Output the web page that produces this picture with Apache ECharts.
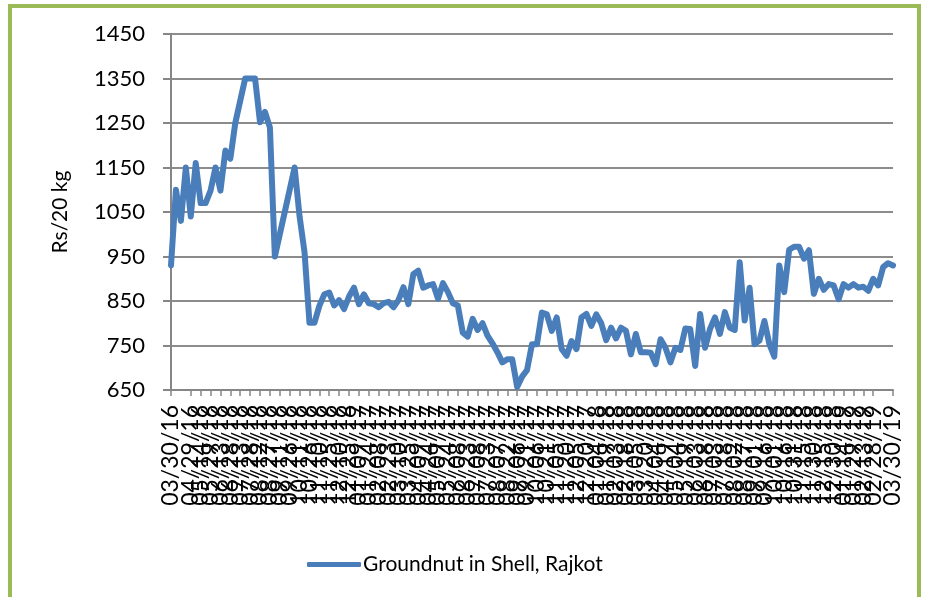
<!DOCTYPE html>
<html>
<head>
<meta charset="utf-8">
<script src="https://cdn.jsdelivr.net/npm/echarts@6/dist/echarts.min.js"></script>
<style>
  html, body { margin: 0; padding: 0; background: #fff; }
  #chart { width: 928px; height: 597px; }
</style>
</head>
<body>
<div id="chart"></div>
<script>
// Groundnut in Shell, Rajkot - Rs/20 kg, 03/30/16 .. 03/30/19
var seriesName = 'Groundnut in Shell, Rajkot';
var startDate = [2016, 3, 30];
var spanDays = 1095;

var prices = [
  930, 1100, 1030, 1150, 1040, 1160, 1070, 1070, 1098, 1150,
  1098, 1188, 1170, 1250, 1300, 1350, 1350, 1350, 1252, 1275,
  1240, 950, 1000, 1050, 1100, 1150, 1040, 960, 801, 801,
  839, 865, 869, 840, 852, 832, 860, 880, 843, 865,
  845, 843, 836, 845, 848, 836, 852, 881, 843, 910,
  918, 880, 885, 888, 855, 890, 870, 845, 840, 779,
  770, 810, 785, 800, 772, 755, 735, 712, 719, 719,
  657, 680, 695, 753, 753, 824, 820, 783, 813, 742,
  727, 760, 742, 813, 821, 794, 820, 800, 762, 790,
  766, 790, 783, 730, 776, 735, 735, 734, 708, 764,
  745, 712, 745, 740, 788, 787, 704, 821, 745, 787,
  813, 776, 825, 790, 785, 937, 806, 880, 753, 761,
  805, 753, 725, 930, 870, 965, 972, 972, 945, 964,
  866, 900, 875, 888, 885, 854, 888, 880, 888, 880,
  882, 873, 900, 885, 926, 935, 930
];

// date labels MM/DD/YY spread over the period
function pad(n) { return (n < 10 ? '0' : '') + n; }
var dates = [];
for (var i = 0; i < prices.length; i++) {
  var d = new Date(startDate[0], startDate[1] - 1, startDate[2] + Math.round(i * spanDays / (prices.length - 1)));
  dates.push(pad(d.getMonth() + 1) + '/' + pad(d.getDate()) + '/' + String(d.getFullYear()).slice(2));
}

var chart = echarts.init(document.getElementById('chart'));
var font = 'Lato, "Open Sans", sans-serif';

var option = {
  animation: false,
  textStyle: { fontFamily: font },
  grid: { left: 171, right: 35, top: 34, bottom: 207 },
  graphic: [{
    type: 'rect',
    shape: { x: 10, y: 6, width: 909, height: 640 },
    style: { fill: 'none', stroke: '#9bbb59', lineWidth: 4 },
    silent: true
  }],
  legend: {
    bottom: 17,
    left: 302,
    icon: 'roundRect',
    itemWidth: 54,
    itemHeight: 5,
    itemGap: 4,
    textStyle: { fontSize: 21, color: '#000', fontFamily: font, padding: [0, 0, 0, -3] },
    data: [seriesName]
  },
  xAxis: {
    type: 'category',
    data: dates,
    boundaryGap: false,
    axisLine: { lineStyle: { color: '#868686', width: 2 } },
    axisTick: { interval: 1, length: 6, lineStyle: { color: '#868686', width: 1.5 } },
    axisLabel: {
      interval: 1,
      rotate: 90,
      margin: 15,
      fontSize: 23,
      color: '#000',
      fontFamily: font,
      showMinLabel: true,
      showMaxLabel: true,
      hideOverlap: false
    },
    splitLine: { show: false }
  },
  yAxis: {
    type: 'value',
    min: 650,
    max: 1450,
    interval: 100,
    name: 'Rs/20 kg',
    nameLocation: 'middle',
    nameGap: 100,
    nameTextStyle: { fontSize: 21, color: '#000', fontFamily: font },
    axisLine: { show: true, lineStyle: { color: '#868686', width: 2 } },
    axisTick: { show: true, length: 8, lineStyle: { color: '#868686', width: 2 } },
    axisLabel: {
      fontSize: 22, color: '#000', margin: 26, fontFamily: font,
      formatter: function (v) { return String(v); }
    },
    splitLine: { lineStyle: { color: '#8c8c8c', width: 2 } }
  },
  series: [{
    name: seriesName,
    type: 'line',
    data: prices,
    showSymbol: false,
    itemStyle: { color: '#4a7ebb' },
    lineStyle: { color: '#4a7ebb', width: 6, cap: 'round', join: 'round' }
  }]
};

chart.setOption(option);
</script>
</body>
</html>
